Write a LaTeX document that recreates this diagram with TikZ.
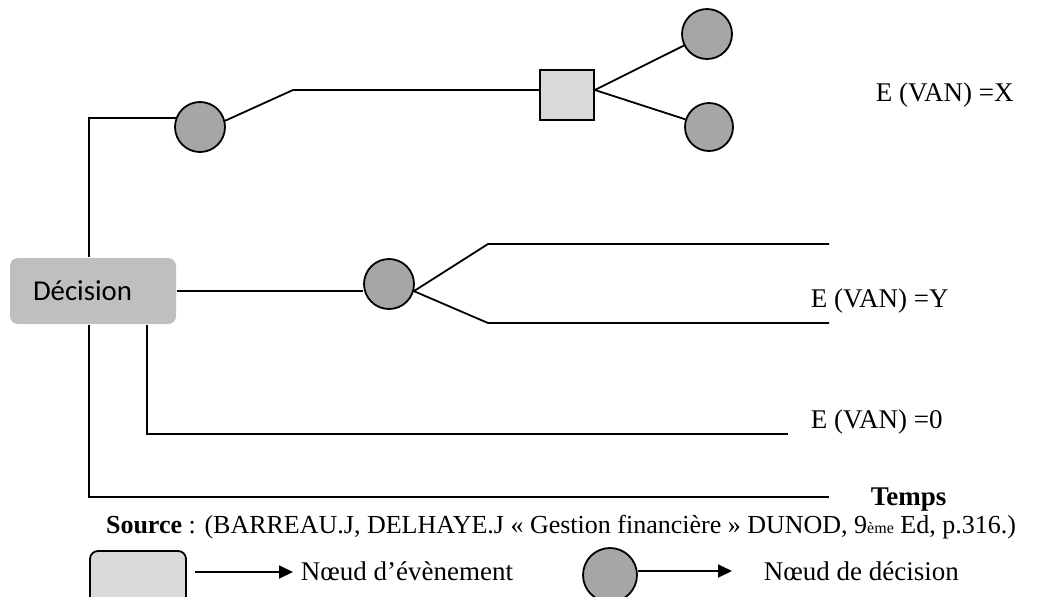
\documentclass[tikz,border=0pt]{standalone}
\usepackage{fontspec}
\setmainfont{Liberation Serif}
\newfontfamily\calibfont{Carlito}
\usetikzlibrary{arrows.meta}
\definecolor{chancegray}{HTML}{A6A6A6}
\definecolor{boxgray}{HTML}{D9D9D9}
\definecolor{decgray}{HTML}{BFBFBF}
\begin{document}
\begin{tikzpicture}[x=0.5pt, y=-0.5pt, line width=0.9pt,
    every node/.style={font=\fontsize{13.5}{16}\selectfont},
    decbox/.style={rectangle, fill=decgray, rounded corners=4pt, text width=60pt, inner xsep=11.5pt, minimum height=33pt, align=left, font=\calibfont\fontsize{14.4}{17}\selectfont},
    chance/.style={circle, draw=black, fill=chancegray, minimum size=25pt, inner sep=0pt},
    event/.style={rectangle, draw=black, fill=boxgray, minimum width=27pt, minimum height=25pt, inner sep=0pt},
    legbox/.style={rectangle, draw=black, fill=boxgray, rounded corners=4pt, minimum width=48pt, minimum height=36pt},
    label/.style={anchor=base west, inner sep=0pt},
    arrow/.style={-{Triangle[length=7pt, width=6.5pt]}}
  ]
    \clip (0,0) rectangle (1043,596);

    % Decision node
    \node (dec) [decbox] at (93,291) {Décision};

    % Upper branch
    \node (c_one) [chance] at (200,127) {};
    \node (sq) [event] at (567,95) {};
    \node (c_up) [chance] at (707,34) {};
    \node (c_dn) [chance, minimum size=24pt] at (709,127) {};
    \coordinate (k_one) at (293,90);

    \draw ([xshift=40pt]dec.north west) |- (c_one.159);
    \draw (c_one.14) -- (k_one) -- (k_one -| sq.west);
    \draw (k_one -| sq.east) -- (c_up);
    \draw (k_one -| sq.east) -- (c_dn);

    % Middle branch
    \node (c_mid) [chance] at (389,284) {};
    \coordinate (y_up) at (488,244);
    \coordinate (y_up_end) at (829,244);
    \coordinate (y_dn) at (488,323);
    \coordinate (y_dn_end) at (829,323);

    \draw (dec.east) -- (dec.east -| c_mid.west);
    \draw (c_mid.-16) -- (y_up) -- (y_up_end);
    \draw (c_mid.-16) -- (y_dn) -- (y_dn_end);

    % Lower branches
    \coordinate (zero_end) at (788,434);
    \coordinate (time_end) at (829,497);
    \draw ([xshift=69pt]dec.south west) |- (zero_end);
    \draw ([xshift=40pt]dec.south west) |- (time_end);

    % Labels
    \node (lab_x) [label] at (875,101) {E (VAN) =X};
    \node (lab_y) [label] at (810,307) {E (VAN) =Y};
    \node (lab_z) [label] at (810,428) {E (VAN) =0};
    \node (lab_t) [label] at (870,505) {\textbf{Temps}};
    \node (src) [anchor=base, inner sep=0pt, font=\fontsize{13}{15}\selectfont] at (561,533) {\textbf{Source} : (BARREAU.J, DELHAYE.J « Gestion financière » DUNOD, 9{\fontsize{8}{9}\selectfont ème} Ed, p.316.)};

    % Legend
    \node (leg_box) [legbox] at (138,587) {};
    \coordinate (la_one) at (195,572);
    \coordinate (la_one_end) at (293,572);
    \draw[arrow] (la_one) -- (la_one_end);
    \node (leg_ev) [label] at (300,580) {Nœud d’évènement};

    \node (leg_c) [chance, minimum size=27pt] at (610,575) {};
    \coordinate (la_two_end) at (732,571);
    \draw[arrow] (leg_c.east |- la_two_end) -- (la_two_end);
    \node (leg_dec) [label] at (763,580) {Nœud de décision};

  \end{tikzpicture}
\end{document}
